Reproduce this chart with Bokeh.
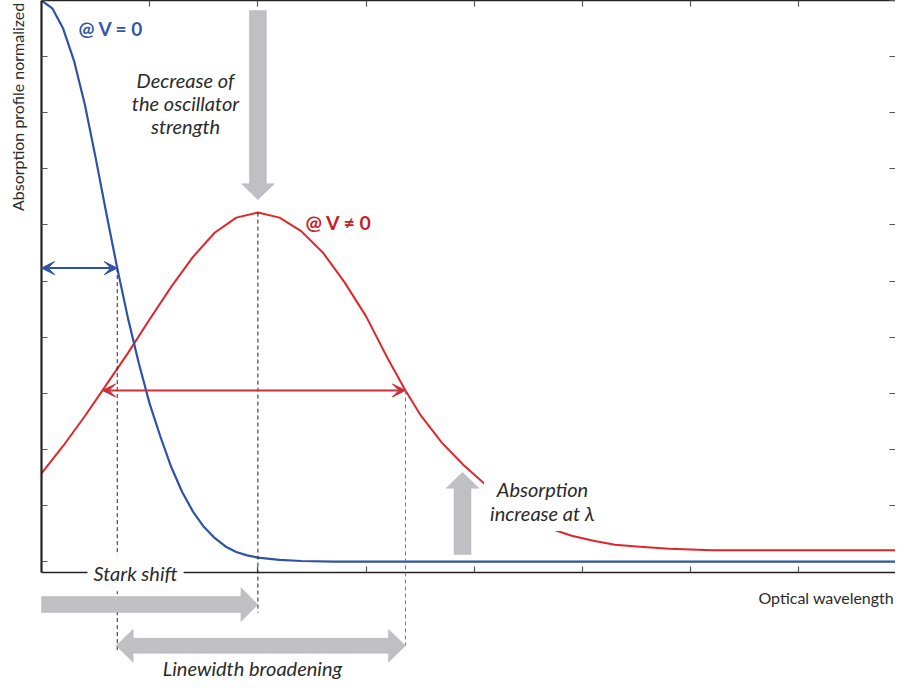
from math import hypot, pi
from bokeh.plotting import figure
from bokeh.models import (Range1d, LinearAxis, FixedTicker, Label, Arrow,
                          VeeHead, PolyAnnotation)
from bokeh.embed import file_html
from bokeh.resources import INLINE

# ---------------- data ----------------
blue_x = [0.00, 0.10, 0.20, 0.30, 0.40, 0.50, 0.60, 0.70, 0.80, 0.90, 1.00,
          1.10, 1.20, 1.30, 1.40, 1.50, 1.60, 1.70, 1.80, 1.90, 2.00, 2.20,
          2.40, 2.70, 8.00]
blue_y = [1.000, 0.986, 0.950, 0.893, 0.815, 0.720, 0.620, 0.523, 0.433, 0.353,
          0.281, 0.222, 0.168, 0.124, 0.089, 0.062, 0.042, 0.027, 0.017, 0.011,
          0.007, 0.003, 0.001, 0.000, 0.000]

red_x = [0.00, 0.20, 0.40, 0.564, 0.80, 1.00, 1.20, 1.40, 1.60, 1.80, 2.00,
         2.20, 2.40, 2.60, 2.80, 3.00, 3.20, 3.364, 3.50, 3.70, 3.90, 4.10,
         4.30, 4.50, 4.70, 4.90, 5.10, 5.30, 5.50, 5.80, 6.20, 8.00]
red_y = [0.157, 0.206, 0.259, 0.305, 0.372, 0.432, 0.490, 0.543, 0.586, 0.613,
         0.622, 0.613, 0.589, 0.551, 0.498, 0.437, 0.362, 0.305, 0.262, 0.212,
         0.172, 0.138, 0.105, 0.080, 0.059, 0.046, 0.037, 0.030, 0.027, 0.023,
         0.020, 0.020]

x_ticks = [1, 2, 3, 4, 5, 6, 7]
y_ticks = [0.0, 0.1, 0.2, 0.3, 0.4, 0.5, 0.6, 0.7, 0.8, 0.9, 1.0]

x_label = "Optical wavelength"
y_label = "Absorption profile normalized"

# key points of the schematic
blue_half_x, blue_half_y = blue_x[7], blue_y[7]
red_peak_x, red_peak_y = red_x[10], red_y[10]
red_half_left, red_half_right, red_half_y = red_x[3], red_x[17], red_y[3]
lambda_x = 3.891

# ---------------- styles / layout ----------------
BLUE = "#2F52A6"
BLUE_TXT = "#3556A8"
RED = "#E0262B"
RED_TXT = "#C62027"
RED_ARR = "#C8303A"
GRAY_FILL = "#C0C0C4"
GRAY_LINE = "#A0A0A6"
TXT = "#2B2B2B"
AXIS = "#222222"
FONT = "Lato"

W, H = 895, 680
X0, X1 = -0.379, 7.893      # data x at canvas left / right edge
Y0, Y1 = -0.212, 1.0        # data y at canvas bottom / top edge
Y_AX = -0.0196              # level of the drawn x axis

p = figure(width=W, height=H, x_range=Range1d(X0, X1), y_range=Range1d(Y0, Y1),
           output_backend="svg", toolbar_location=None,
           x_axis_location=None, y_axis_location=None,
           min_border_left=0, min_border_right=0, min_border_top=0,
           min_border_bottom=0)
p.grid.visible = False
p.outline_line_color = None
p.background_fill_color = "white"
p.border_fill_color = "white"


def mk_axis(ticks, lw, line_color=AXIS, **kw):
    return LinearAxis(ticker=FixedTicker(ticks=ticks), major_tick_in=6,
                      major_tick_out=0, minor_tick_in=0, minor_tick_out=0,
                      major_label_text_font_size="0px",
                      major_label_text_color=None, major_label_standoff=0,
                      axis_line_width=lw, axis_line_color=line_color,
                      major_tick_line_color="#555555", major_tick_line_width=1.2,
                      **kw)


p.add_layout(mk_axis(y_ticks, 2.2, fixed_location=0.0, bounds=(Y_AX, Y1)), "left")
p.add_layout(mk_axis(x_ticks, 1.6, fixed_location=Y_AX, bounds=(0.0, X1)), "below")
p.add_layout(mk_axis(x_ticks, 1.6, bounds=(0.0, X1)), "above")
p.add_layout(mk_axis(y_ticks, 1.6, None, bounds=(Y_AX, Y1)), "right")

# ---------------- curves ----------------
p.line(red_x, red_y, line_color=RED, line_width=2, line_join="round")
p.line(blue_x, blue_y, line_color=BLUE, line_width=2.2, line_join="round")

# pixel scale used to build block arrows with pixel-sized widths
SX = W / (X1 - X0)
SY = H / (Y1 - Y0)


def block_arrow(x0, y0, x1, y1, shaft, head, head_len, double=False):
    ax, ay, bx, by = x0 * SX, y0 * SY, x1 * SX, y1 * SY
    L = hypot(bx - ax, by - ay)
    ux, uy = (bx - ax) / L, (by - ay) / L
    nx, ny = -uy, ux
    hs, hh = shaft / 2, head / 2
    if double:
        pts = [(0, 0), (head_len, hh), (head_len, hs), (L - head_len, hs),
               (L - head_len, hh), (L, 0), (L - head_len, -hh),
               (L - head_len, -hs), (head_len, -hs), (head_len, -hh)]
    else:
        pts = [(0, hs), (L - head_len, hs), (L - head_len, hh), (L, 0),
               (L - head_len, -hh), (L - head_len, -hs), (0, -hs)]
    xs = [(ax + s * ux + t * nx) / SX for s, t in pts]
    ys = [(ay + s * uy + t * ny) / SY for s, t in pts]
    return PolyAnnotation(xs=xs, ys=ys, fill_color=GRAY_FILL, fill_alpha=1,
                          line_color=GRAY_LINE, line_width=1)


# dashed guide lines
for xx, ya, yb, col in [(blue_half_x, blue_half_y, -0.162, "#222222"),
                        (red_peak_x, red_peak_y, -0.091, "#222222"),
                        (red_half_right, red_half_y, -0.150, "#777777")]:
    p.add_layout(Arrow(x_start=xx, y_start=ya, x_end=xx, y_end=yb, end=None,
                       line_dash="4 3", line_color=col, line_width=1))

# gray block arrows
p.add_layout(block_arrow(red_peak_x, 0.982, red_peak_x, red_peak_y + 0.023, 17, 33, 16))
p.add_layout(block_arrow(lambda_x, 0.0125, lambda_x, 0.159, 17, 33, 16))
p.add_layout(block_arrow(0.0, -0.0766, red_peak_x, -0.0766, 16, 34, 17))
p.add_layout(block_arrow(blue_half_x - 0.01, -0.150, red_half_right, -0.150, 15, 33, 17,
                         double=True))

# double-headed line arrows
p.add_layout(Arrow(x_start=0.0, y_start=blue_half_y, x_end=blue_half_x, y_end=blue_half_y,
                   start=VeeHead(size=13, line_color=BLUE, fill_color=BLUE, line_width=1),
                   end=VeeHead(size=13, line_color=BLUE, fill_color=BLUE, line_width=1),
                   line_color=BLUE, line_width=2))
p.add_layout(Arrow(x_start=red_half_left, y_start=red_half_y, x_end=red_half_right,
                   y_end=red_half_y,
                   start=VeeHead(size=13, line_color=RED_ARR, fill_color=RED_ARR, line_width=1),
                   end=VeeHead(size=13, line_color=RED_ARR, fill_color=RED_ARR, line_width=1),
                   line_color=RED_ARR, line_width=2))


# ---------------- texts ----------------
def lab(x, y, text, size, color=TXT, style="italic", align="center",
        baseline="middle", **kw):
    p.add_layout(Label(x=x, y=y, text=text, text_font=FONT, text_font_size=size,
                       text_color=color, text_font_style=style, text_align=align,
                       text_baseline=baseline, **kw))


lab(0.342, 0.950, "@ V = 0", "19px", BLUE_TXT, "bold", "left")
lab(2.44, 0.604, "@ V \u2260 0", "19.5px", RED_TXT, "bold", "left")
lab(1.331, 0.817, "Decrease of\nthe oscillator\nstrength", "20px",
    text_line_height=0.965)
lab(4.63, 0.108, "Absorption\nincrease at \u03bb", "20px", text_line_height=1.0,
    background_fill_color="white", padding=6)
lab(0.869, -0.021, "Stark shift", "20px", background_fill_color="white", padding=6)
lab(1.95, -0.189, "Linewidth broadening", "20px")
lab(7.88, -0.064, x_label, "16px", style="normal", align="right")
lab(-0.222, 0.996, y_label, "16px", style="normal", align="right", angle=pi / 2)

open("out.html", "w").write(file_html(p, INLINE))
